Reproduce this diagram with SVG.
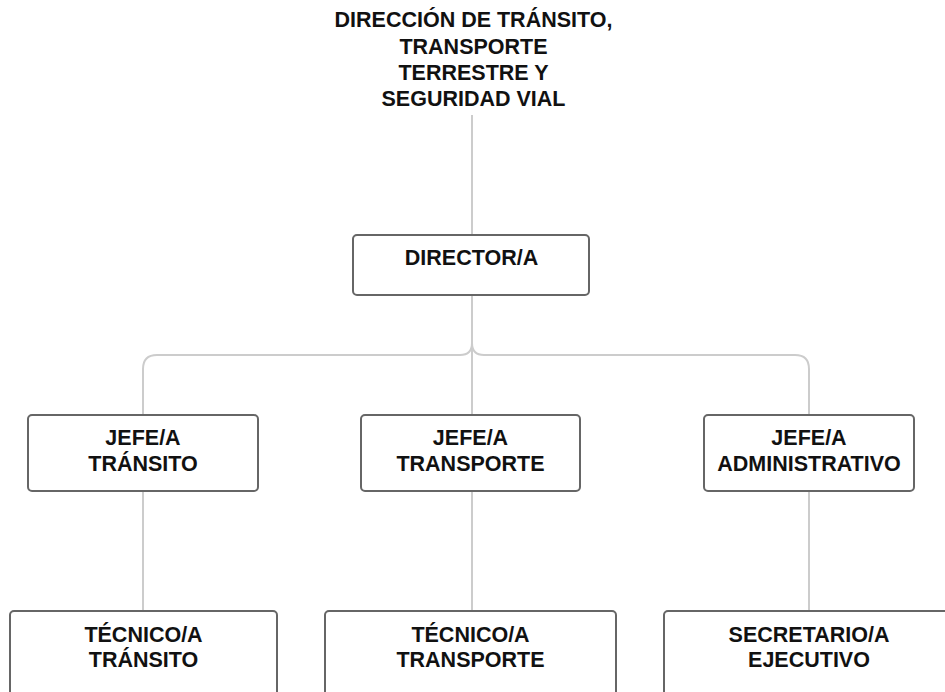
<svg xmlns="http://www.w3.org/2000/svg" width="945" height="692" viewBox="0 0 945 692">
<style>
.box{fill:#ffffff;stroke:#666666;stroke-width:2}
.conn{fill:none;stroke:#cccccc;stroke-width:2}
.t{font-family:"Liberation Sans",Arial,sans-serif;font-weight:bold;font-size:21.5px;fill:#111111;text-anchor:middle}
</style>
<rect width="945" height="692" fill="#ffffff"/>
<g id="connectors">
<path class="conn" d="M472,115 L472,235"/>
<path class="conn" d="M472,295 L472,415"/>
<path class="conn" d="M472,343 Q472,355 460,355 L157,355 Q143,355 143,369 L143,415"/>
<path class="conn" d="M472,343 Q472,355 484,355 L795,355 Q809,355 809,369 L809,415"/>
<path class="conn" d="M143,491 L143,611"/>
<path class="conn" d="M472,491 L472,611"/>
<path class="conn" d="M809,491 L809,611"/>
</g>
<g id="title">
<text class="t" x="473.5" y="27">DIRECCIÓN DE TRÁNSITO,</text>
<text class="t" x="473.5" y="53.5">TRANSPORTE</text>
<text class="t" x="473.5" y="80">TERRESTRE Y</text>
<text class="t" x="473.5" y="106">SEGURIDAD VIAL</text>
</g>
<g id="director">
<rect class="box" x="353" y="235" width="236" height="60" rx="4"/>
<text class="t" x="471.5" y="265">DIRECTOR/A</text>
</g>
<g id="jefe-transito">
<rect class="box" x="28" y="415" width="230" height="76" rx="4"/>
<text class="t" x="143" y="445">JEFE/A</text>
<text class="t" x="143" y="471">TRÁNSITO</text>
</g>
<g id="jefe-transporte">
<rect class="box" x="361" y="415" width="219" height="76" rx="4"/>
<text class="t" x="470.5" y="445">JEFE/A</text>
<text class="t" x="470.5" y="471">TRANSPORTE</text>
</g>
<g id="jefe-administrativo">
<rect class="box" x="704" y="415" width="210" height="76" rx="4"/>
<text class="t" x="809" y="445">JEFE/A</text>
<text class="t" x="809" y="471">ADMINISTRATIVO</text>
</g>
<g id="tecnico-transito">
<rect class="box" x="10" y="611" width="267" height="100" rx="4"/>
<text class="t" x="143.5" y="642">TÉCNICO/A</text>
<text class="t" x="143.5" y="667">TRÁNSITO</text>
</g>
<g id="tecnico-transporte">
<rect class="box" x="325" y="611" width="291" height="100" rx="4"/>
<text class="t" x="470.5" y="642">TÉCNICO/A</text>
<text class="t" x="470.5" y="667">TRANSPORTE</text>
</g>
<g id="secretario">
<rect class="box" x="664" y="611" width="300" height="100" rx="4"/>
<text class="t" x="809" y="642">SECRETARIO/A</text>
<text class="t" x="809" y="667">EJECUTIVO</text>
</g>
</svg>
